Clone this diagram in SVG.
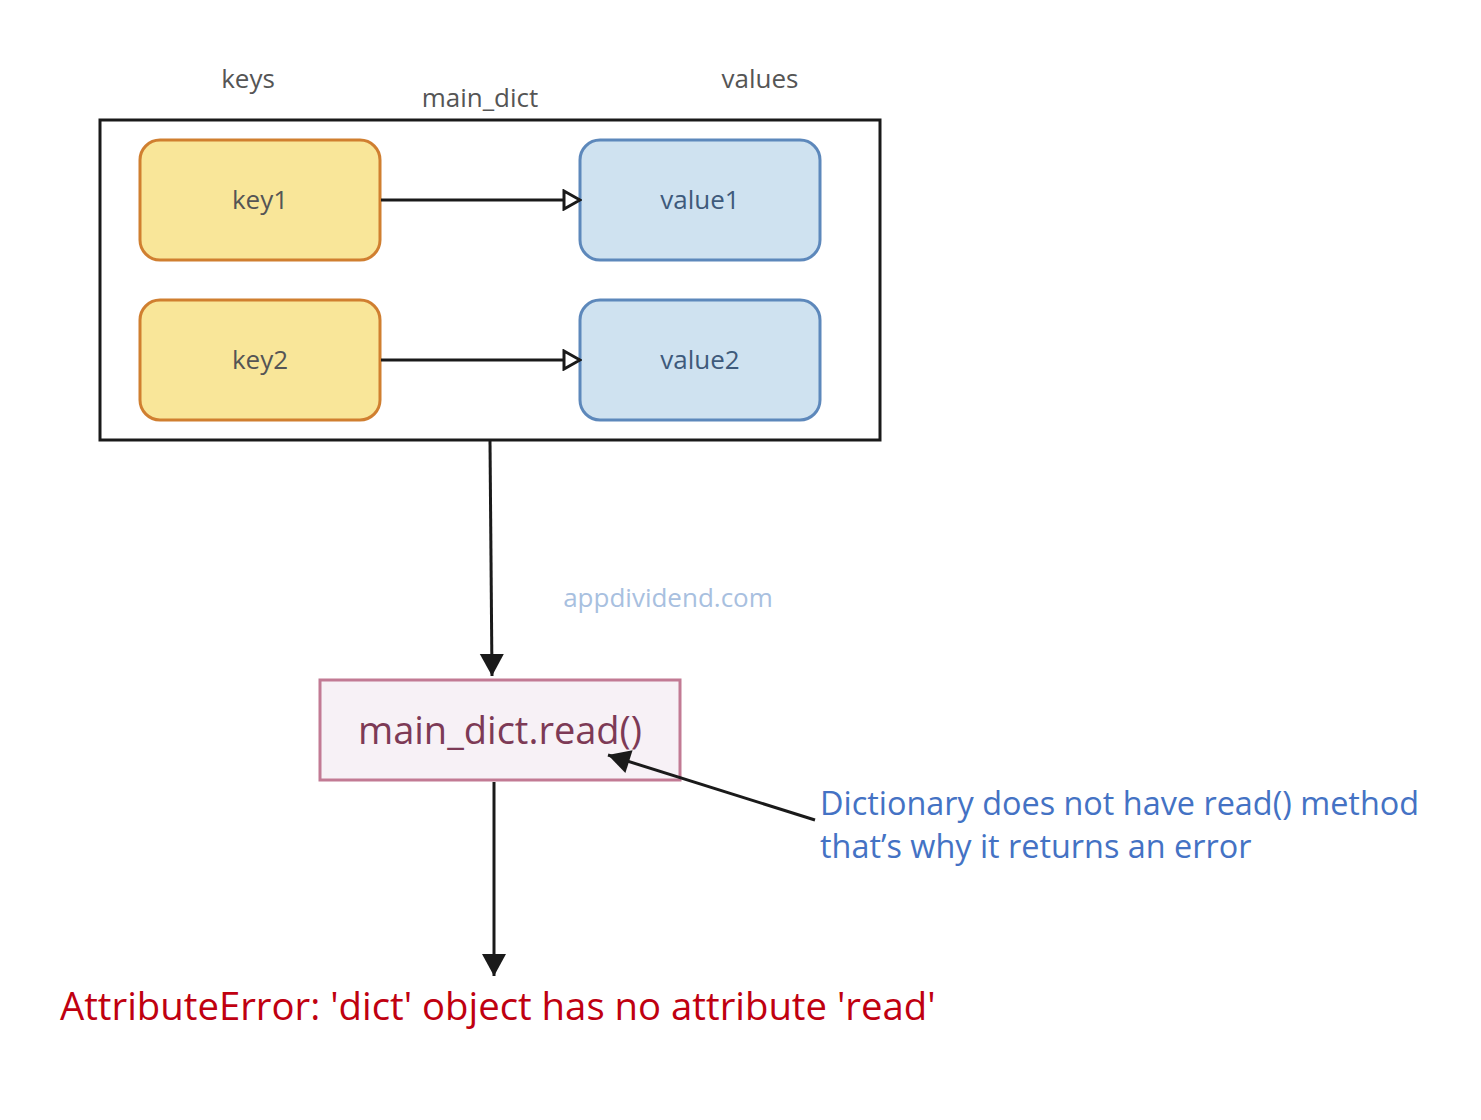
<svg xmlns="http://www.w3.org/2000/svg" width="1481" height="1120" viewBox="0 0 1481 1120">
<defs>
<style>
text{font-family:"Open Sans","Noto Sans","DejaVu Sans",sans-serif}
.lbl{font-size:26px;fill:#555555;text-anchor:middle}
.key{fill:#f9e699;stroke:#d07f30;stroke-width:3}
.val{fill:#cfe2f0;stroke:#5d88bb;stroke-width:3}
.kt{font-size:26px;fill:#555555;text-anchor:middle}
.vt{font-size:26px;fill:#3e5a7b;text-anchor:middle}
.conn{stroke:#1a1a1a;stroke-width:3;fill:none}
</style>
<marker id="open" markerWidth="20" markerHeight="22" refX="18" refY="11" orient="auto" markerUnits="userSpaceOnUse">
<path d="M2,2 L18,11 L2,20 Z" fill="#ffffff" stroke="#1a1a1a" stroke-width="3"/>
</marker>
<marker id="fill" markerWidth="28" markerHeight="28" refX="26" refY="14" orient="auto" markerUnits="userSpaceOnUse">
<path d="M4,2 L26,14 L4,26 Z" fill="#1a1a1a"/>
</marker>
</defs>
<rect width="1481" height="1120" fill="#ffffff"/>
<g id="labels">
<text class="lbl" x="248" y="88">keys</text>
<text class="lbl" x="480" y="107">main_dict</text>
<text class="lbl" x="760" y="88">values</text>
</g>
<g id="main_dict"><rect x="100" y="120" width="780" height="320" fill="#ffffff" stroke="#1a1a1a" stroke-width="3"/></g>
<g id="key1"><rect class="key" x="140" y="140" width="240" height="120" rx="20"/><text class="kt" x="260" y="209">key1</text></g>
<g id="value1"><rect class="val" x="580" y="140" width="240" height="120" rx="20"/><text class="vt" x="700" y="209">value1</text></g>
<g id="key2"><rect class="key" x="140" y="300" width="240" height="120" rx="20"/><text class="kt" x="260" y="369">key2</text></g>
<g id="value2"><rect class="val" x="580" y="300" width="240" height="120" rx="20"/><text class="vt" x="700" y="369">value2</text></g>
<g id="read"><rect x="320" y="680" width="360" height="100" fill="#f7f1f6" stroke="#c27a94" stroke-width="3"/><text x="500" y="744" font-size="38" fill="#7d3a56" text-anchor="middle">main_dict.read()</text></g>
<g id="note"><text font-size="32.4" fill="#4472c4"><tspan x="820" y="815">Dictionary does not have read() method</tspan><tspan x="820" y="858">that’s why it returns an error</tspan></text></g>
<g id="error"><text x="60" y="1020" font-size="38.3" fill="#c00010">AttributeError: 'dict' object has no attribute 'read'</text></g>
<g id="watermark"><text x="668" y="607" font-size="26" fill="#a8c0df" text-anchor="middle">appdividend.com</text></g>
<g id="connectors">
<line class="conn" x1="381" y1="200" x2="580" y2="200" marker-end="url(#open)"/>
<line class="conn" x1="381" y1="360" x2="580" y2="360" marker-end="url(#open)"/>
<line class="conn" x1="490" y1="441" x2="492" y2="676" marker-end="url(#fill)"/>
<line class="conn" x1="815" y1="820" x2="608" y2="755" marker-end="url(#fill)"/>
<line class="conn" x1="494" y1="782" x2="494" y2="976" marker-end="url(#fill)"/>
</g>
</svg>
